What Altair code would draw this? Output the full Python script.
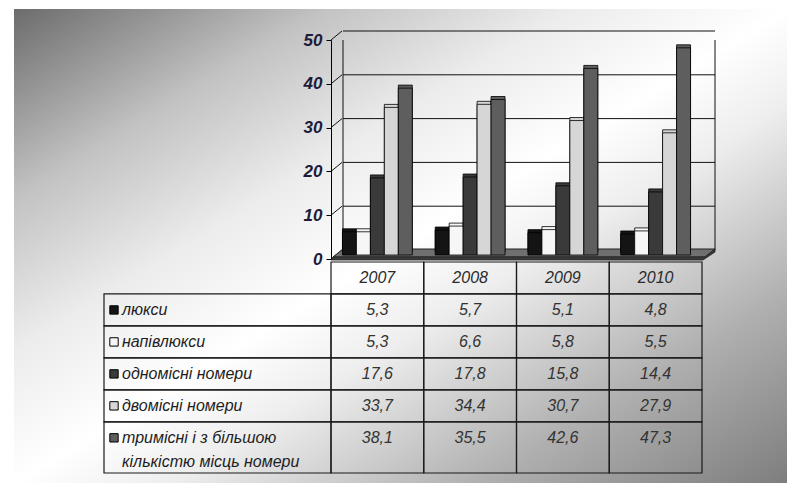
import altair as alt
import pandas as pd

# ---- data -------------------------------------------------------------
years = ["2007", "2008", "2009", "2010"]
series = [
    "люкси",
    "напівлюкси",
    "одномісні номери",
    "двомісні номери",
    "тримісні і з більшою кількістю місць номери",
]
# label lines shown in the table's first column
series_lines = [
    ["люкси"],
    ["напівлюкси"],
    ["одномісні номери"],
    ["двомісні номери"],
    ["тримісні і з більшою", "кількістю місць номери"],
]
lux = [5.3, 5.7, 5.1, 4.8]
semi_lux = [5.3, 6.6, 5.8, 5.5]
single = [17.6, 17.8, 15.8, 14.4]
double = [33.7, 34.4, 30.7, 27.9]
triple = [38.1, 35.5, 42.6, 47.3]
y_ticks = [0, 10, 20, 30, 40, 50]

fills = ["#141414", "#f6f6f6", "#3a3a3a", "#d6d6d6", "#5e5e5e"]

FONT = "Liberation Sans"
W, H = 787, 483


def fmt(v):
    return f"{v:.1f}".replace(".", ",")


rows = []
for i, (s, vals) in enumerate(zip(series, [lux, semi_lux, single, double, triple])):
    for y, v in zip(years, vals):
        rows.append({"year": y, "series": s, "value": v, "label": fmt(v), "row": i + 1.5})
bars = pd.DataFrame(rows)

# ---- shared scales ----------------------------------------------------
x_scale = alt.Scale(domain=years, range=[331, 702], paddingInner=0, paddingOuter=0)
off_scale = alt.Scale(domain=series, paddingInner=0, paddingOuter=0.82)
y_scale = alt.Scale(domain=[0, 50], range=[259, 40], nice=False, zero=True)
color = alt.Color("series:N", scale=alt.Scale(domain=series, range=fills), legend=None)

y_axis = alt.Axis(
    values=y_ticks,
    offset=-331,
    zindex=2,
    grid=False,
    title=None,
    labelFont=FONT,
    labelFontSize=17,
    labelFontWeight="bold",
    labelFontStyle="italic",
    labelColor="#1c1c3a",
    labelPadding=4,
    tickSize=5,
    tickColor="#000",
    domainColor="#000",
    tickWidth=1,
    domainWidth=1,
)


def Y(field):
    return alt.Y(field, type="quantitative", scale=y_scale, axis=y_axis)


X = alt.X("year:N", scale=x_scale, axis=None)
XOFF = alt.XOffset("series:N", scale=off_scale)

one = pd.DataFrame({"k": [0]})
ticks = pd.DataFrame({"tick": y_ticks})
edge = pd.DataFrame({"lo": [0], "hi": [50]})

# ---- background panel with diagonal grey gradient -----------------------
background = alt.Chart(one).mark_rect(
    fill=alt.Gradient(
        gradient="linear",
        x1=0, y1=0, x2=1, y2=1,
        stops=[
            alt.GradientStop(offset=0, color="#6c6c6c"),
            alt.GradientStop(offset=0.2, color="#c2c2c2"),
            alt.GradientStop(offset=0.36, color="#ececec"),
            alt.GradientStop(offset=0.5, color="#ffffff"),
            alt.GradientStop(offset=0.6, color="#eeeeee"),
            alt.GradientStop(offset=0.8, color="#b0b0b0"),
            alt.GradientStop(offset=1, color="#7e7e7e"),
        ],
    )
).encode(x=alt.value(14), x2=alt.value(W), y=alt.value(9), y2=alt.value(H))

# ---- 3-D box: back wall grid, left wall diagonals, floor ----------------
back_grid = alt.Chart(ticks).mark_rule(color="#111", strokeWidth=1, yOffset=-9).encode(
    y=Y("tick"), x=alt.value(343), x2=alt.value(715)
)
side_diag = alt.Chart(ticks).mark_point(
    shape="M0,0L11,-9", size=4, filled=False, stroke="#111", strokeWidth=1, opacity=1
).encode(y=Y("tick"), x=alt.value(331))
back_edges = alt.Chart(edge).mark_rule(color="#111", strokeWidth=1, yOffset=-9).encode(
    y=Y("lo"), y2="hi", x=alt.value(343)
)
back_edges_r = alt.Chart(edge).mark_rule(color="#111", strokeWidth=1, yOffset=-9).encode(
    y=Y("lo"), y2="hi", x=alt.value(715)
)
floor_top = alt.Chart(one.assign(z=0)).mark_point(
    shape="M2,-2L12,-10L384,-10L374,-2Z",
    size=4, filled=True, fill="#707070", stroke="#222", strokeWidth=1, opacity=1,
).encode(y=Y("z"), x=alt.value(331))
floor_edge = alt.Chart(one.assign(z=0)).mark_point(
    shape="M2,-2L374,-2L384,-10L384,-7L372,1L0,1Z",
    size=4, filled=True, fill="#3c3c3c", stroke="#222", strokeWidth=0.8, opacity=1,
).encode(y=Y("z"), x=alt.value(331))

# ---- bars: a shifted copy for depth, then the front face ---------------
bar_depth = alt.Chart(bars).mark_bar(
    xOffset=7, yOffset=-7, stroke="#000", strokeWidth=0.8
).encode(x=X, xOffset=XOFF, y=Y("value"), color=color)
bar_front = alt.Chart(bars).mark_bar(
    xOffset=3, yOffset=-4, stroke="#000", strokeWidth=0.8
).encode(x=X, xOffset=XOFF, y=Y("value"), color=color)

plot = alt.layer(
    back_grid, side_diag, back_edges, back_edges_r, floor_top, floor_edge, bar_depth, bar_front
)

# ---- data table --------------------------------------------------------
t_scale = alt.Scale(domain=[0, 6.6], range=[262, 473], nice=False, zero=False)
TY = lambda f: alt.Y(f, type="quantitative", scale=t_scale, axis=None)

cells = []
for y in years:
    cells.append({"year": y, "r0": 0, "r1": 1})
    for i in range(len(series)):
        cells.append({"year": y, "r0": i + 1, "r1": i + 2 if i < len(series) - 1 else 6.6})
cells = pd.DataFrame(cells)
label_cells = pd.DataFrame(
    {"r0": [i + 1 for i in range(len(series))],
     "r1": [i + 2 if i < len(series) - 1 else 6.6 for i in range(len(series))]}
)

grid_cells = alt.Chart(cells).mark_rect(
    fillOpacity=0, stroke="#1a1a1a", strokeWidth=1.2
).encode(x=X, y=TY("r0"), y2="r1")
grid_labels = alt.Chart(label_cells).mark_rect(
    fillOpacity=0, stroke="#1a1a1a", strokeWidth=1.2
).encode(x=alt.value(104), x2=alt.value(331), y=TY("r0"), y2="r1")

text_style = dict(font=FONT, fontSize=16, fontStyle="italic", baseline="middle")
header = alt.Chart(pd.DataFrame({"year": years, "row": [0.5] * 4})).mark_text(
    color="#2a2a2a", align="center", dy=0, **text_style
).encode(x=X, y=TY("row"), text="year:N")
values = alt.Chart(bars).mark_text(
    color="#333", align="center", dy=0, **text_style
).encode(x=X, y=TY("row"), text="label:N")

lab_rows = []
for i, lines in enumerate(series_lines):
    for j, t in enumerate(lines):
        lab_rows.append({"series": series[i], "txt": t, "row": i + 1.5 + j * 0.75})
lab_df = pd.DataFrame(lab_rows)
row_labels = alt.Chart(lab_df).mark_text(
    color="#1e1e1e", align="left", **text_style
).encode(x=alt.value(122), y=TY("row"), text="txt:N")

key_df = pd.DataFrame({"series": series, "row": [i + 1.5 for i in range(len(series))]})
keys = alt.Chart(key_df).mark_point(
    shape="square", size=70, filled=True, stroke="#000", strokeWidth=1, opacity=1
).encode(x=alt.value(114), y=TY("row"), fill=alt.Fill("series:N", scale=alt.Scale(domain=series, range=fills), legend=None))

table = alt.layer(grid_cells, grid_labels, header, values, row_labels, keys)

chart = (
    alt.layer(background, plot, table)
    .resolve_scale(y="independent")
    .properties(width=W, height=H, padding=0, autosize=alt.AutoSizeParams(type="none"))
    .configure_view(stroke=None)
)

chart.save("out.html", embed_options={"renderer": "svg", "actions": False})
